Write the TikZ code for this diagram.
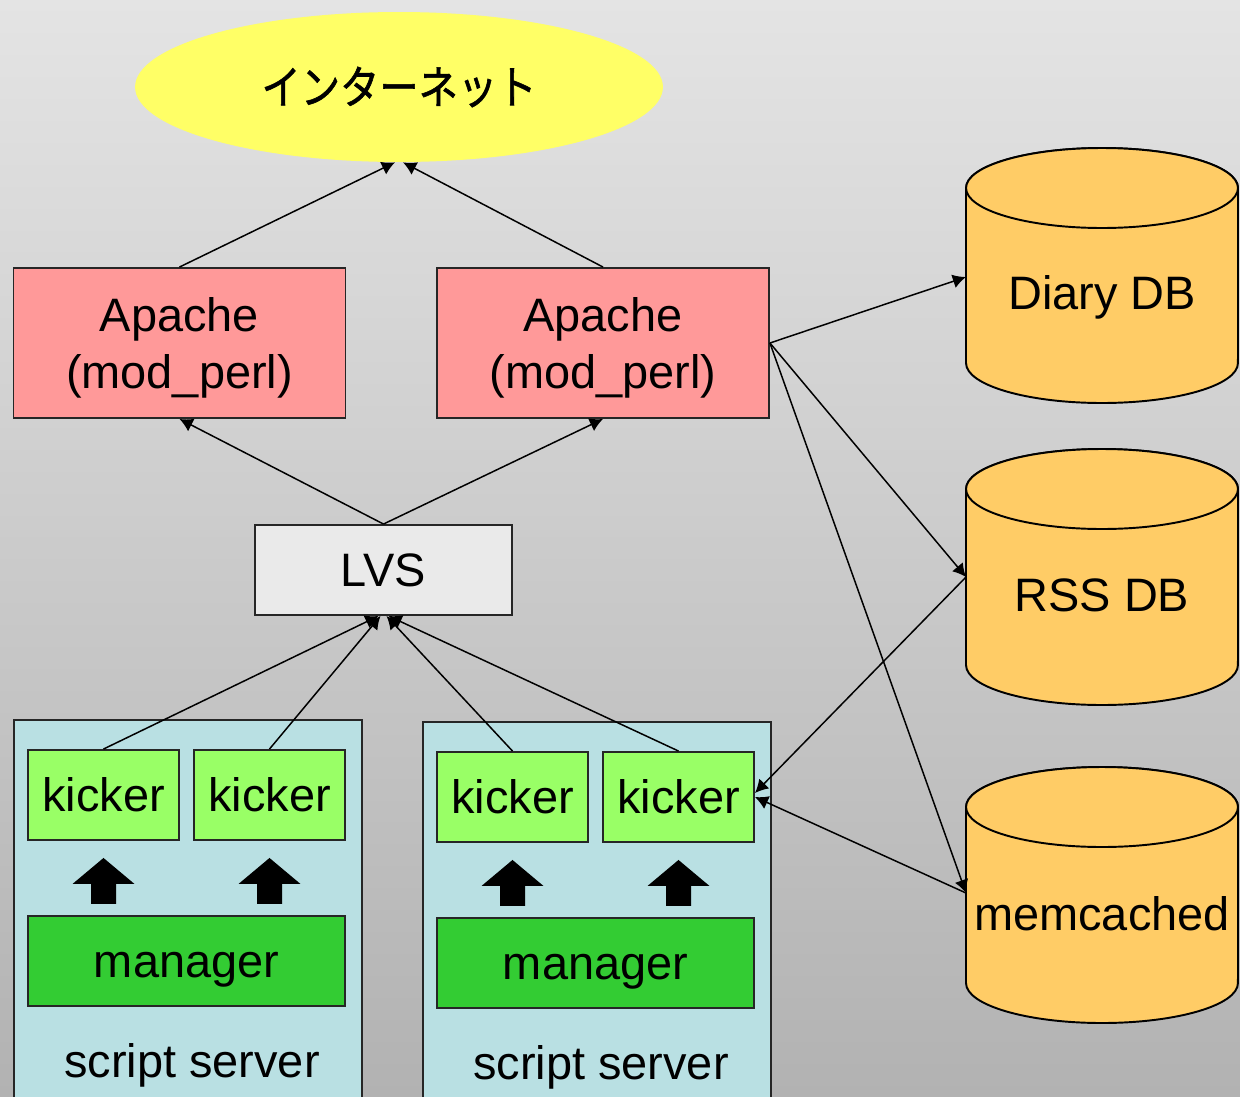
\documentclass[tikz,border=0pt]{standalone}
\usepackage{fontspec}
\setmainfont{Liberation Sans}
\newfontfamily\jpfont[FakeStretch=0.86,FakeBold=1.2]{Noto Sans CJK JP}
\usetikzlibrary{shapes.geometric,arrows.meta}
\definecolor{bgtop}{HTML}{E4E4E4}
\definecolor{bgbot}{HTML}{B2B2B2}
\definecolor{netyellow}{HTML}{FFFF66}
\definecolor{apachered}{HTML}{FF9999}
\definecolor{lvsgray}{HTML}{EAEAEA}
\definecolor{servercyan}{HTML}{B9E0E3}
\definecolor{kickergreen}{HTML}{99FF66}
\definecolor{managergreen}{HTML}{33CC33}
\definecolor{dborange}{HTML}{FFCC66}
\newcommand{\dbcyl}[6]{%
  \filldraw[db] (966,#2) -- (966,#3) arc[start angle=180,end angle=360,x radius=2.72cm,y radius=0.8cm]
    -- (1238,#2) arc[start angle=0,end angle=180,x radius=2.72cm,y radius=0.8cm] -- cycle;
  \draw[db] (1102,#2) ellipse[x radius=2.72cm,y radius=0.8cm];
  \node[txt] (#1) at (1102,#5) {#4};
  \coordinate (#1w) at (966,#6);
}
\newcommand{\twolines}[2]{\raisebox{0pt}[\height][\dimexpr\depth-0.24cm\relax]{%
  \begin{tabular}{@{}c@{}}#1\\#2\end{tabular}}}

\begin{document}
\begin{tikzpicture}[x=0.02cm,y=-0.02cm,
    >={Latex[length=7.5pt,width=8pt]},
    link/.style={line width=0.85pt},
    box/.style={rectangle,draw=black!85,line width=1.1pt,inner sep=0pt},
    txt/.style={font=\fontsize{26.7}{32.3}\selectfont,text height=24.2pt,text depth=5.7pt,inner sep=0pt},
    apache/.style={box,fill=apachered,minimum width=6.64cm,minimum height=3cm,
      font=\fontsize{26.7}{32.3}\selectfont},
    kicker/.style={box,txt,fill=kickergreen,minimum width=3.02cm,minimum height=1.8cm},
    manager/.style={box,txt,fill=managergreen,minimum width=6.34cm,minimum height=1.8cm},
    server/.style={box,fill=servercyan,minimum width=6.96cm,minimum height=8cm,anchor=north west},
    db/.style={fill=dborange,draw=black,line width=1.1pt}]
  \useasboundingbox (0,0) rectangle (1240,1096);
  \clip (0,0) rectangle (1240,1096);
  \shade[top color=bgtop,bottom color=bgbot] (0,0) rectangle (1240,1096);

  \node[server] (serverA) at (13,719) {};
  \node[server] (serverB) at (422,721) {};
  \node[txt] (labelA) at (192,1061) {script server};
  \node[txt] (labelB) at (601,1063) {script server};

  \node[ellipse,fill=netyellow,minimum width=10.56cm,minimum height=3cm,inner sep=0pt,
    font=\jpfont\fontsize{26}{30}\selectfont] (net) at (399,87) {インターネット};
  \node[apache] (apacheA) at (179.5,343) {\twolines{Apache}{(mod\_perl)}};
  \node[apache] (apacheB) at (603,343) {\twolines{Apache}{(mod\_perl)}};
  \node[box,txt,fill=lvsgray,minimum width=5.14cm,minimum height=1.8cm] (lvs) at (383.5,570) {LVS};
  \node[kicker] (kickA) at (103.5,795) {kicker};
  \node[kicker] (kickB) at (269.5,795) {kicker};
  \node[kicker] (kickC) at (512.5,797) {kicker};
  \node[kicker] (kickD) at (678.5,797) {kicker};
  \node[manager] (managerA) at (186.5,961) {manager};
  \node[manager] (managerB) at (595.5,963) {manager};

  \dbcyl{diary}{188}{363}{Diary DB}{293}{277}
  \dbcyl{rss}{489}{665}{RSS DB}{595}{577}
  \dbcyl{memc}{807}{983}{memcached}{914}{893}

  \draw[->,link] (apacheA.north) -- ([xshift=-0.08cm]net.south);
  \draw[->,link] (apacheB.north) -- ([xshift=0.08cm]net.south);
  \draw[->,link] (lvs.north) -- (apacheA.south);
  \draw[->,link] (lvs.north) -- (apacheB.south);
  \draw[->,link] (kickA.north) -- ([xshift=-0.1cm]lvs.south);
  \draw[->,link] (kickB.north) -- ([xshift=-0.06cm]lvs.south);
  \draw[->,link] (kickC.north) -- ([xshift=0.06cm]lvs.south);
  \draw[->,link] (kickD.north) -- ([xshift=0.1cm]lvs.south);
  \draw[->,link] (apacheB.east) -- (diaryw);
  \draw[->,link] (apacheB.east) -- (rssw);
  \draw[->,link] (apacheB.east) -- (memcw);
  \draw[->,link] (rssw) -- ([yshift=0.08cm]kickD.east);
  \draw[->,link] (memcw) -- (kickD.east);

  \foreach \k in {kickA,kickB,kickC,kickD}
    \fill (\k.south) ++(0,17) -- ++(31,26) -- ++(-18.5,0) -- ++(0,20) -- ++(-25,0)
      -- ++(0,-20) -- ++(-18.5,0) -- cycle;
\end{tikzpicture}
\end{document}
